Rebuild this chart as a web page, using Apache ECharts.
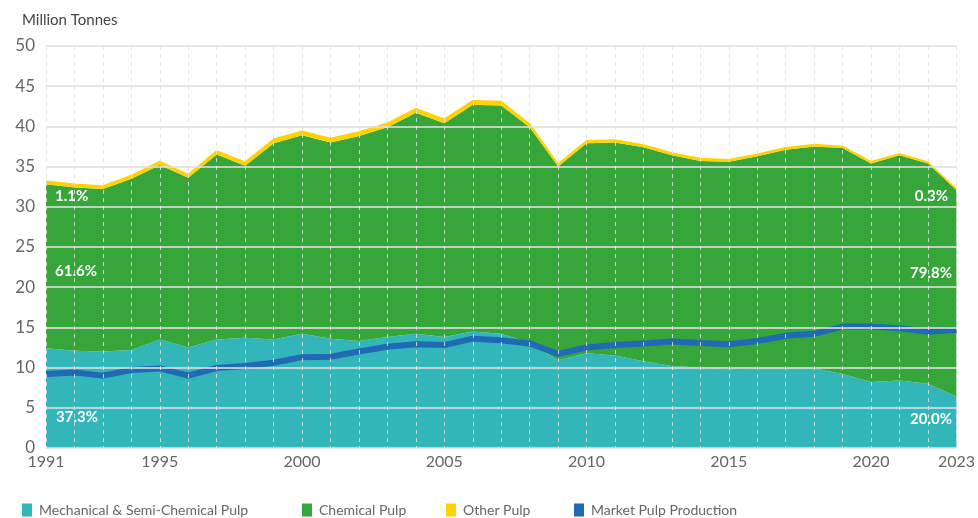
<!DOCTYPE html>
<html>
<head>
<meta charset="utf-8">
<script src="https://cdn.jsdelivr.net/npm/echarts@6/dist/echarts.min.js"></script>
<style>
  html, body { margin: 0; padding: 0; background: #fff; }
  #ct { width: 978px; height: 518px; }
</style>
</head>
<body>
<div id="ct"></div>
<script>
// data (million tonnes)
const years = ['1991','1992','1993','1994','1995','1996','1997','1998','1999','2000',
  '2001','2002','2003','2004','2005','2006','2007','2008','2009','2010',
  '2011','2012','2013','2014','2015','2016','2017','2018','2019','2020',
  '2021','2022','2023'];
const mechanical = [12.4,12.1,12.0,12.2,13.5,12.5,13.5,13.7,13.5,14.2,
  13.6,13.3,13.8,14.2,13.8,14.5,14.2,13.1,10.9,11.8,
  11.5,10.8,10.2,10.0,9.8,9.9,9.9,9.9,9.2,8.2,
  8.4,8.0,6.4];
const chemical = [20.4,20.3,20.2,21.3,21.7,21.1,23.0,21.4,24.4,24.7,
  24.4,25.5,26.1,27.5,26.6,28.2,28.4,26.8,24.1,26.1,
  26.5,26.6,26.2,25.7,25.8,26.4,27.2,27.6,28.1,27.2,
  28.0,27.4,25.7];
const otherPulp = [0.37,0.4,0.4,0.4,0.45,0.4,0.45,0.45,0.5,0.5,
  0.5,0.5,0.5,0.5,0.5,0.5,0.5,0.4,0.3,0.3,
  0.3,0.3,0.3,0.3,0.25,0.25,0.25,0.25,0.2,0.2,
  0.2,0.15,0.1];
const marketPulp = [9.2,9.4,9.0,9.7,9.9,9.0,9.95,10.2,10.6,11.3,
  11.35,12.0,12.6,12.9,12.8,13.6,13.4,13.0,11.7,12.5,
  12.8,13.0,13.25,13.05,12.9,13.3,13.95,14.2,15.1,15.1,
  14.9,14.45,14.7];
const xTickLabels = ['1991','1995','2000','2005','2010','2015','2020','2023'];
const yTicks = [0, 5, 10, 15, 20, 25, 30, 35, 40, 45, 50];
const shares1991 = ['1.1%', '61.6%', '37.3%'];
const shares2023 = ['0.3%', '79.8%', '20.0%'];

const names = ['Mechanical & Semi-Chemical Pulp', 'Chemical Pulp', 'Other Pulp', 'Market Pulp Production'];
const colors = ['#32b6b9', '#36a63a', '#ffd200', '#1f69b5'];
const font = 'Lato, "Open Sans", sans-serif';

const chart = echarts.init(document.getElementById('ct'));

function legendFor(i, left) {
  return {
    data: [names[i]],
    left: left,
    top: 503,
    padding: 0,
    icon: 'rect',
    itemWidth: 10,
    itemHeight: 13,
    selectedMode: false,
    textStyle: { color: '#666', fontSize: 14, fontFamily: font, padding: [0, 0, 0, 2] }
  };
}

function shareLabel(text, pos) {
  return Object.assign({
    type: 'text',
    z: 100,
    style: { text: text, fill: '#fff', font: 'bold 15px ' + font }
  }, pos);
}

const option = {
  animation: false,
  backgroundColor: '#fff',
  color: colors,
  title: {
    text: 'Million Tonnes',
    left: 17,
    top: 8,
    textStyle: { color: '#444', fontSize: 15, fontWeight: 'normal', fontFamily: font }
  },
  legend: [legendFor(0, 22), legendFor(1, 302), legendFor(2, 446), legendFor(3, 574)],
  grid: { left: 46, right: 20, top: 46, bottom: 70 },
  xAxis: {
    type: 'category',
    boundaryGap: false,
    data: years,
    z: 5,
    axisLine: { show: false },
    axisTick: { show: false },
    axisLabel: {
      color: '#666',
      fontSize: 16,
      fontFamily: font,
      margin: 6,
      interval: (idx, val) => xTickLabels.includes(val)
    },
    splitLine: {
      show: true,
      interval: 0,
      lineStyle: { color: 'rgba(225,225,225,0.85)', width: 1, type: [4, 4] }
    }
  },
  yAxis: {
    type: 'value',
    min: yTicks[0],
    max: yTicks[yTicks.length - 1],
    interval: 5,
    z: 5,
    axisLine: { show: false },
    axisTick: { show: false },
    axisLabel: { color: '#666', fontSize: 17, fontFamily: font, margin: 11 },
    splitLine: { lineStyle: { color: 'rgba(222,222,222,0.8)', width: 2 } }
  },
  series: [
    {
      name: names[0], type: 'line', stack: 'pulp', data: mechanical,
      symbol: 'none', lineStyle: { width: 0 },
      areaStyle: { color: colors[0], opacity: 1 }, z: 2
    },
    {
      name: names[1], type: 'line', stack: 'pulp', data: chemical,
      symbol: 'none', lineStyle: { width: 0 },
      areaStyle: { color: colors[1], opacity: 1 }, z: 2
    },
    {
      name: names[2], type: 'line', stack: 'pulp', data: otherPulp,
      symbol: 'none', lineStyle: { width: 1.5, color: colors[2] },
      areaStyle: { color: colors[2], opacity: 1 }, z: 2
    },
    {
      name: names[3], type: 'line', data: marketPulp,
      symbol: 'none', lineStyle: { width: 6, color: colors[3] }, z: 3
    }
  ],
  graphic: [
    shareLabel(shares1991[0], { left: 55, top: 189 }),
    shareLabel(shares1991[1], { left: 55, top: 264 }),
    shareLabel(shares1991[2], { left: 56, top: 410 }),
    shareLabel(shares2023[0], { right: 30, top: 189 }),
    shareLabel(shares2023[1], { right: 26, top: 266 }),
    shareLabel(shares2023[2], { right: 26, top: 412 })
  ]
};

chart.setOption(option);
</script>
</body>
</html>
